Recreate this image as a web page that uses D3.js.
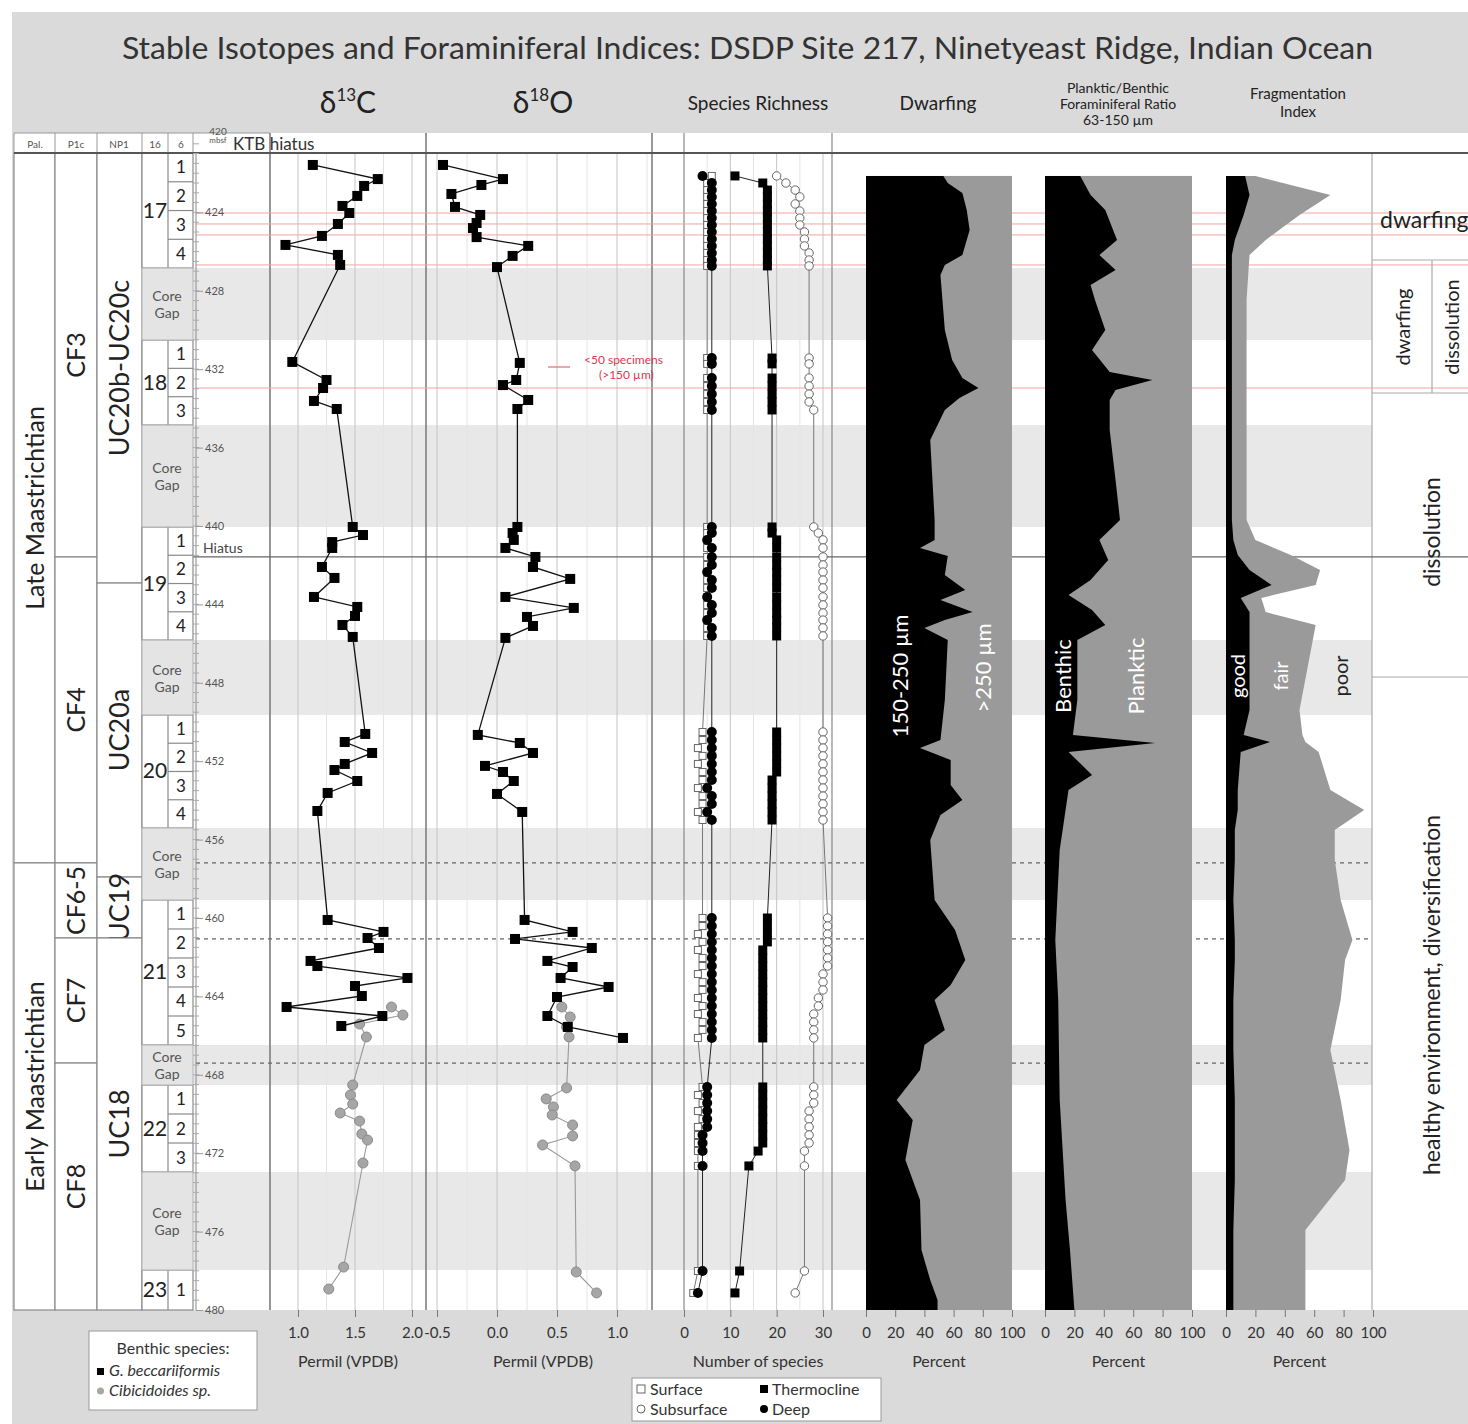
<!DOCTYPE html>
<html>
<head>
<meta charset="utf-8">
<title>Stable Isotopes and Foraminiferal Indices: DSDP Site 217</title>
<script src="https://cdn.jsdelivr.net/npm/d3@7"></script>
<style>
    body { margin: 0; background: #fff; }
    svg text { font-family: Lato, "Open Sans", sans-serif; fill: #222; }
</style>
</head>
<body>
<svg id="chart" width="1468" height="1424"></svg>
<script>
// ---------- stratigraphy (depths in mbsf) ----------
var stageNames = ["Late Maastrichtian", "Early Maastrichtian"];
var stageTop = [420.97, 457.19];
var stageBase = [457.19, 480];

var pfZones = ["CF3", "CF4", "CF6-5", "CF7", "CF8"];
var pfTop = [420.97, 441.58, 457.19, 461.02, 467.40];
var pfBase = [441.58, 457.19, 461.02, 467.40, 480];

var nannoZones = ["UC20b-UC20c", "UC20a", "UC19", "UC18"];
var nannoTop = [420.97, 442.91, 457.91, 461.02];
var nannoBase = [442.91, 457.91, 461.02, 480];

var coreNames = ["17", "18", "19", "20", "21", "22", "23"];
var coreTop = [420.97, 430.51, 440.05, 449.64, 459.08, 468.52, 477.96];
var coreBase = [426.84, 434.85, 445.82, 455.41, 466.48, 472.96, 480.00];
var coreSections = [4, 3, 4, 4, 5, 3, 1];
var gapTop = [426.84, 434.85, 445.82, 455.41, 466.48, 472.96];
var gapBase = [430.51, 440.05, 449.64, 459.08, 468.52, 477.96];

var depthLabels = [424, 428, 432, 436, 440, 444, 448, 452, 456, 460, 464, 468, 472, 476, 480];
var redLineDepths = [424.03, 424.59, 425.15, 426.68, 432.96];
var hiatusDepth = 441.58;
var dashedDepths = [457.19, 461.07, 467.40];

// ---------- axis ticks ----------
var c13Ticks = [1.0, 1.5, 2.0];
var o18Ticks = [-0.5, 0.0, 0.5, 1.0];
var richTicks = [0, 10, 20, 30];
var pctTicks = [0, 20, 40, 60, 80, 100];

// ---------- d13C ----------
var c13BeccDepth = [421.58, 422.30, 422.65, 423.16, 423.67, 424.03, 424.59, 425.20, 425.66, 426.17, 426.68,
    431.63, 432.55, 432.96, 433.62, 434.03,
    440.05, 440.46, 440.82, 441.12, 442.09, 442.65, 443.62, 444.13, 444.59, 445.05, 445.66,
    450.61, 451.02, 451.58, 452.14, 452.45, 453.01, 453.62, 454.54,
    460.10, 460.71, 461.02, 461.53, 462.19, 462.45, 463.06, 463.47, 463.98, 464.54, 465.00, 465.51];
var c13BeccValue = [1.13, 1.70, 1.58, 1.52, 1.39, 1.45, 1.35, 1.21, 0.89, 1.35, 1.37,
    0.95, 1.25, 1.22, 1.14, 1.34,
    1.48, 1.57, 1.30, 1.30, 1.21, 1.32, 1.14, 1.52, 1.50, 1.39, 1.48,
    1.59, 1.41, 1.65, 1.41, 1.32, 1.52, 1.26, 1.17,
    1.26, 1.75, 1.61, 1.71, 1.11, 1.17, 1.96, 1.50, 1.56, 0.90, 1.74, 1.38];
var c13CibDepth = [464.54, 464.95, 465.41, 466.07, 468.52, 469.03, 469.49, 469.95, 470.36, 471.02, 471.33, 472.50, 477.81, 478.93];
var c13CibValue = [1.82, 1.92, 1.54, 1.60, 1.48, 1.46, 1.48, 1.37, 1.54, 1.56, 1.61, 1.57, 1.40, 1.27];

// ---------- d18O ----------
var o18BeccDepth = [421.58, 422.30, 422.60, 423.06, 423.72, 424.13, 424.54, 424.80, 425.26, 425.71, 426.22, 426.79,
    431.68, 432.55, 432.81, 433.57, 434.03,
    440.05, 440.36, 440.71, 441.12, 441.58, 442.09, 442.70, 443.62, 444.18, 444.64, 445.10, 445.71,
    450.66, 451.07, 451.58, 452.24, 452.55, 453.01, 453.67, 454.59,
    460.10, 460.71, 461.07, 461.53, 462.19, 462.50, 463.06, 463.52, 464.03, 465.00, 465.56, 466.12];
var o18BeccValue = [-0.45, 0.05, -0.13, -0.38, -0.35, -0.14, -0.17, -0.20, -0.17, 0.26, 0.13, 0.00,
    0.19, 0.16, 0.05, 0.26, 0.17,
    0.17, 0.13, 0.14, 0.07, 0.32, 0.30, 0.61, 0.07, 0.64, 0.25, 0.30, 0.07,
    -0.16, 0.19, 0.30, -0.10, 0.05, 0.14, 0.00, 0.21,
    0.23, 0.63, 0.15, 0.79, 0.42, 0.63, 0.53, 0.93, 0.50, 0.42, 0.59, 1.05];
var o18CibDepth = [464.54, 465.05, 465.56, 466.07, 468.67, 469.23, 469.64, 470.05, 470.56, 471.12, 471.58, 472.65, 478.06, 479.13];
var o18CibValue = [0.54, 0.61, 0.58, 0.60, 0.58, 0.41, 0.47, 0.46, 0.63, 0.63, 0.38, 0.65, 0.66, 0.83];

// ---------- species richness ----------
var richDepth = [422.14, 422.50, 422.86, 423.21, 423.57, 423.93, 424.29, 424.64, 425.00, 425.36, 425.71, 426.07, 426.43, 426.73,
    431.43, 431.73, 432.45, 432.86, 433.27, 433.67, 434.08,
    440.05, 440.36, 440.71, 441.12, 441.58, 441.99, 442.35, 442.76, 443.16, 443.62, 444.03, 444.44, 444.80, 445.20, 445.61,
    450.51, 450.92, 451.33, 451.73, 452.14, 452.55, 452.96, 453.37, 453.78, 454.18, 454.59, 455.00,
    460.00, 460.41, 460.82, 461.22, 461.63, 462.04, 462.45, 462.86, 463.27, 463.67, 464.08, 464.49, 464.90, 465.31, 465.71, 466.12,
    468.62, 469.03, 469.44, 469.85, 470.26, 470.66, 471.07, 471.48, 471.89, 472.65,
    478.01, 479.13];
var richSurface = [6, 5, 5, 5, 5, 5, 5, 5, 5, 5, 5, 5, 5, 5,
    5, 5, 5, 5, 5, 5, 5,
    5, 5, 5, 5, 5, 5, 5, 5, 5, 5, 5, 5, 5, 5, 5,
    4, 4, 3, 4, 3, 4, 4, 3, 4, 4, 3, 4,
    4, 4, 3, 4, 3, 4, 4, 3, 4, 4, 3, 4, 3, 4, 4, 3,
    4, 3, 4, 3, 4, 3, 3, 3, 3, 3,
    3, 2];
var richSubsurface = [20, 22, 24, 25, 24, 25, 25, 25, 26, 26, 26, 27, 27, 27,
    27, 27, 27, 27, 27, 27, 28,
    28, 29, 30, 30, 30, 30, 30, 30, 30, 30, 30, 30, 30, 30, 30,
    30, 30, 30, 30, 30, 30, 30, 30, 30, 30, 30, 30,
    31, 31, 31, 31, 31, 31, 31, 30, 30, 30, 29, 29, 28, 28, 28, 28,
    28, 28, 28, 27, 27, 27, 27, 27, 26, 26,
    26, 24];
var richThermocline = [11, 17, 18, 18, 18, 18, 18, 18, 18, 18, 18, 18, 18, 18,
    19, 19, 19, 19, 19, 19, 19,
    19, 19, 20, 20, 20, 20, 20, 20, 20, 20, 20, 20, 20, 20, 20,
    20, 20, 20, 20, 20, 20, 19, 19, 19, 19, 19, 19,
    18, 18, 18, 18, 17, 17, 17, 17, 17, 17, 17, 17, 17, 17, 17, 17,
    17, 17, 17, 17, 17, 17, 17, 17, 16, 14,
    12, 11];
var richDeep = [4, 6, 6, 6, 6, 6, 6, 6, 6, 6, 6, 6, 6, 6,
    6, 6, 6, 6, 6, 6, 6,
    6, 6, 5, 6, 6, 6, 5, 6, 6, 5, 6, 6, 5, 6, 6,
    6, 6, 6, 6, 6, 6, 6, 5, 6, 6, 5, 6,
    6, 6, 6, 6, 6, 6, 6, 6, 6, 6, 6, 6, 6, 6, 6, 6,
    5, 5, 5, 5, 5, 5, 4, 4, 4, 4,
    4, 3];

// ---------- dwarfing: % of 150-250 um fraction ----------
var dwarfDepth = [422.14, 422.50, 423.01, 423.88, 424.90, 426.17, 426.68, 427.19, 430.00, 431.53, 432.45, 432.96, 433.47, 434.08,
    435.61, 439.69, 440.71, 441.12, 441.53, 442.50, 443.27, 443.78, 444.39, 444.80, 445.20, 445.82, 448.88, 450.92,
    451.33, 451.94, 453.21, 453.98, 454.74, 456.02, 459.08, 460.61, 462.14, 463.42, 464.18, 465.71, 466.48, 467.76,
    469.29, 470.31, 472.35, 474.39, 476.94, 478.47, 479.49, 480.00];
var dwarfSmall = [53, 56, 66, 69, 71, 66, 54, 51, 54, 59, 66, 77, 64, 54,
    44, 47, 47, 37, 56, 54, 68, 51, 73, 54, 40, 56, 54, 51,
    37, 58, 58, 66, 51, 44, 47, 61, 68, 58, 47, 54, 40, 37,
    21, 32, 27, 37, 38, 44, 49, 49];

// ---------- planktic/benthic: % benthic ----------
var pbDepth = [422.14, 423.11, 423.88, 425.41, 426.17, 426.94, 427.70, 428.47, 430.00, 431.02, 432.14, 432.55, 433.06,
    433.57, 435.10, 437.65, 439.69, 440.71, 441.73, 442.76, 443.52, 444.29, 445.05, 445.82, 448.88, 450.66,
    451.07, 451.53, 452.70, 453.47, 456.53, 461.12, 464.18, 469.29, 474.39, 476.94, 480.00];
var pbBenthic = [24, 31, 41, 49, 37, 48, 31, 34, 41, 32, 44, 73, 48,
    44, 44, 48, 51, 37, 43, 31, 16, 32, 41, 22, 22, 19,
    75, 16, 32, 16, 10, 7, 9, 10, 14, 17, 20];

// ---------- fragmentation index: % good / % fair ----------
var fragDepth = [422.14, 423.11, 424.13, 425.41, 426.17, 428.47, 433.57, 439.69, 440.71, 441.48, 442.24, 443.01, 443.67,
    444.39, 445.05, 449.39, 450.66, 451.02, 451.53, 453.47, 454.49, 455.51, 457.04, 459.08, 461.12, 462.14,
    464.18, 466.73, 469.29, 471.84, 473.37, 475.92, 480.00];
var fragGood = [13, 16, 12, 6, 4, 4, 4, 4, 5, 8, 16, 31, 10,
    16, 16, 16, 12, 30, 10, 8, 8, 6, 6, 5, 6, 6,
    5, 5, 6, 6, 6, 5, 5];
var fragFair = [7, 55, 38, 21, 12, 10, 10, 10, 15, 36, 48, 30, 14,
    11, 45, 34, 40, 24, 53, 63, 86, 68, 68, 73, 80, 75,
    73, 66, 72, 78, 75, 49, 49];

// ---------- scales ----------
var svg = d3.select("#chart");
var y = d3.scaleLinear().domain([420, 480]).range([134, 1310]);
var x13 = d3.scaleLinear().domain([1.0, 2.0]).range([298, 412]);
var x18 = d3.scaleLinear().domain([-0.5, 1.0]).range([437, 617]);
var xRich = d3.scaleLinear().domain([0, 30]).range([684, 823]);
var xDwarf = d3.scaleLinear().domain([0, 100]).range([866, 1012]);
var xPB = d3.scaleLinear().domain([0, 100]).range([1045, 1192]);
var xFrag = d3.scaleLinear().domain([0, 100]).range([1226, 1373]);
var yBot = y(480);

function hline(x1, x2, yy, color, w, dash) {
    var l = svg.append("line").attr("x1", x1).attr("x2", x2).attr("y1", yy).attr("y2", yy)
        .attr("stroke", color).attr("stroke-width", w || 1);
    if (dash) l.attr("stroke-dasharray", dash);
    return l;
}
function vline(xx, y1, y2, color, w) {
    return svg.append("line").attr("x1", xx).attr("x2", xx).attr("y1", y1).attr("y2", y2)
        .attr("stroke", color).attr("stroke-width", w || 1);
}
function label(x, yy, str, size, anchor, fill) {
    return svg.append("text").attr("x", x).attr("y", yy).attr("font-size", size)
        .attr("text-anchor", anchor || "middle").style("fill", fill || "#222").text(str);
}
function vlabel(x, yc, str, size, fill) {
    return svg.append("text").attr("transform", "translate(" + x + "," + yc + ") rotate(-90)")
        .attr("text-anchor", "middle").attr("font-size", size).style("fill", fill || "#222").text(str);
}
function rows(depths, values) {
    return depths.map(function(d, i) { return {d: d, v: values[i]}; });
}

// ---------- background ----------
svg.append("rect").attr("x", 12).attr("y", 12).attr("width", 1456).attr("height", 1412).attr("fill", "#dadada");
svg.append("rect").attr("x", 14).attr("y", 133).attr("width", 1454).attr("height", yBot - 133).attr("fill", "#fff");

// core gap bands
gapTop.forEach(function(t, i) {
    svg.append("rect").attr("x", 142).attr("y", y(t)).attr("width", 1372 - 142)
        .attr("height", y(gapBase[i]) - y(t)).attr("fill", "#e8e8e8");
});

// grid lines
function grid(scale, vals, color) {
    vals.forEach(function(v) { vline(scale(v), 153, yBot, color); });
}
grid(x13, c13Ticks.slice(1).map(function(v) { return v - 0.25; }).concat([0.75]), "#e4e4e4");
grid(x13, c13Ticks, "#c4c4c4");
grid(x18, o18Ticks.map(function(v) { return v + 0.25; }), "#e4e4e4");
grid(x18, o18Ticks, "#c4c4c4");
grid(xRich, [5, 15, 25], "#e4e4e4");
grid(xRich, richTicks.slice(1), "#c4c4c4");

// panel borders
vline(270, 133, yBot, "#777", 1.5);
vline(426, 133, yBot, "#777", 1.5);
vline(652, 133, yBot, "#999", 2);
vline(684, 133, yBot, "#888", 1.2);
vline(832, 133, yBot, "#888", 1.2);
vline(1372, 153, yBot, "#aaa", 1.2);

// event lines
redLineDepths.forEach(function(d) { hline(196, 1468, y(d), "#f3a3a3", 1); });
hline(168, 1468, y(hiatusDepth), "#666", 1.2);
dashedDepths.forEach(function(d) { hline(196, 1372, y(d), "#666", 1.2, "4,4"); });

// ---------- percent panels ----------
var dw = rows(dwarfDepth, dwarfSmall);
svg.append("rect").attr("x", xDwarf(0)).attr("y", y(dwarfDepth[0])).attr("width", xDwarf(100) - xDwarf(0))
    .attr("height", yBot - y(dwarfDepth[0])).attr("fill", "#9a9a9a");
svg.append("path").datum(dw).attr("fill", "#000")
    .attr("d", d3.area().y(function(d) { return y(d.d); }).x0(xDwarf(0)).x1(function(d) { return xDwarf(d.v); }));

var pb = rows(pbDepth, pbBenthic);
svg.append("rect").attr("x", xPB(0)).attr("y", y(pbDepth[0])).attr("width", xPB(100) - xPB(0))
    .attr("height", yBot - y(pbDepth[0])).attr("fill", "#9a9a9a");
svg.append("path").datum(pb).attr("fill", "#000")
    .attr("d", d3.area().y(function(d) { return y(d.d); }).x0(xPB(0)).x1(function(d) { return xPB(d.v); }));

var fr = fragDepth.map(function(d, i) { return {d: d, g: fragGood[i], f: fragGood[i] + fragFair[i]}; });
svg.append("path").datum(fr).attr("fill", "#9a9a9a")
    .attr("d", d3.area().y(function(d) { return y(d.d); }).x0(xFrag(0)).x1(function(d) { return xFrag(d.f); }));
svg.append("path").datum(fr).attr("fill", "#000")
    .attr("d", d3.area().y(function(d) { return y(d.d); }).x0(xFrag(0)).x1(function(d) { return xFrag(d.g); }));

vlabel(908, 676, "150-250 µm", 22, "#fff");
vlabel(991, 668, ">250 µm", 22, "#fff");
vlabel(1071, 676, "Benthic", 22, "#fff");
vlabel(1144, 676, "Planktic", 22, "#fff");
vlabel(1245, 676, "good", 20, "#fff");
vlabel(1288, 676, "fair", 20, "#fff");
vlabel(1348, 676, "poor", 20, "#222");

// ---------- isotope series ----------
function isoSeries(scale, depths, values, isBecc) {
    var data = rows(depths, values);
    svg.append("path").datum(data).attr("fill", "none")
        .attr("stroke", isBecc ? "#111" : "#999").attr("stroke-width", isBecc ? 1.3 : 1.1)
        .attr("d", d3.line().x(function(d) { return scale(d.v); }).y(function(d) { return y(d.d); }));
    if (isBecc) {
        svg.append("g").selectAll("rect").data(data).enter().append("rect")
            .attr("x", function(d) { return scale(d.v) - 5; }).attr("y", function(d) { return y(d.d) - 5; })
            .attr("width", 10).attr("height", 10).attr("fill", "#000");
    } else {
        svg.append("g").selectAll("circle").data(data).enter().append("circle")
            .attr("cx", function(d) { return scale(d.v); }).attr("cy", function(d) { return y(d.d); })
            .attr("r", 5).attr("fill", "#a6a6a6").attr("stroke", "#8a8a8a");
    }
}
isoSeries(x13, c13CibDepth, c13CibValue, false);
isoSeries(x13, c13BeccDepth, c13BeccValue, true);
isoSeries(x18, o18CibDepth, o18CibValue, false);
isoSeries(x18, o18BeccDepth, o18BeccValue, true);

// ---------- species richness ----------
function richSeries(values, shape, filled) {
    var data = rows(richDepth, values);
    svg.append("path").datum(data).attr("fill", "none").attr("stroke", filled ? "#222" : "#777").attr("stroke-width", 1)
        .attr("d", d3.line().x(function(d) { return xRich(d.v); }).y(function(d) { return y(d.d); }));
    var g = svg.append("g");
    if (shape === "square") {
        g.selectAll("rect").data(data).enter().append("rect")
            .attr("x", function(d) { return xRich(d.v) - (filled ? 4.5 : 3.5); })
            .attr("y", function(d) { return y(d.d) - (filled ? 4.5 : 3.5); })
            .attr("width", filled ? 9 : 7).attr("height", filled ? 9 : 7)
            .attr("fill", filled ? "#000" : "#fff").attr("stroke", filled ? "none" : "#666");
    } else {
        g.selectAll("circle").data(data).enter().append("circle")
            .attr("cx", function(d) { return xRich(d.v); }).attr("cy", function(d) { return y(d.d); })
            .attr("r", filled ? 5 : 4.2)
            .attr("fill", filled ? "#000" : "#fff").attr("stroke", filled ? "none" : "#666");
    }
}
richSeries(richSurface, "square", false);
richSeries(richSubsurface, "circle", false);
richSeries(richThermocline, "square", true);
richSeries(richDeep, "circle", true);

// ---------- stratigraphic columns ----------
svg.append("rect").attr("x", 14).attr("y", 133).attr("width", 182).attr("height", 20).attr("fill", "#fff");
function zoneColumn(x0, x1, names, tops, bases, size) {
    names.forEach(function(n, i) {
        svg.append("rect").attr("x", x0).attr("y", y(tops[i])).attr("width", x1 - x0)
            .attr("height", y(bases[i]) - y(tops[i])).attr("fill", "#fff").attr("stroke", "#8a8a8a").attr("stroke-width", 1.2);
        vlabel((x0 + x1) / 2 + size * 0.36, (y(tops[i]) + y(bases[i])) / 2, n, size);
    });
}
zoneColumn(14, 55, stageNames, stageTop, stageBase, 25);
zoneColumn(55, 97, pfZones, pfTop, pfBase, 25);
zoneColumn(97, 142, nannoZones, nannoTop, nannoBase, 27);

coreNames.forEach(function(c, i) {
    var t = coreTop[i], b = coreBase[i], n = coreSections[i], h = (b - t) / n;
    svg.append("rect").attr("x", 142).attr("y", y(t)).attr("width", 51).attr("height", y(b) - y(t))
        .attr("fill", "#fff").attr("stroke", "#8a8a8a").attr("stroke-width", 1.2);
    vline(168, y(t), y(b), "#8a8a8a", 1.2);
    for (var s = 0; s < n; s++) {
        if (s > 0) hline(168, 193, y(t + h * s), "#8a8a8a", 1.2);
        label(181, (y(t + h * s) + y(t + h * (s + 1))) / 2 + 6, String(s + 1), 17);
    }
    label(155, (y(t) + y(b)) / 2 + 7, c, 21);
});
gapTop.forEach(function(t, i) {
    var b = gapBase[i], cy = (y(t) + y(b)) / 2;
    svg.append("rect").attr("x", 142).attr("y", y(t)).attr("width", 51).attr("height", y(b) - y(t))
        .attr("fill", "#e4e4e4").attr("stroke", "#b5b5b5");
    label(167, cy - 3, "Core", 14, "middle", "#555");
    label(167, cy + 14, "Gap", 14, "middle", "#555");
});

// header row of the columns
hline(14, 270, 133, "#999", 1);
[14, 55, 97, 142, 168, 193].forEach(function(xx) { vline(xx, 133, 153, "#999", 1); });
label(35, 148, "Pal.", 10, "middle", "#555");
label(76, 148, "P1c", 10, "middle", "#555");
label(119, 148, "NP1", 10, "middle", "#555");
label(155, 148, "16", 10, "middle", "#555");
label(181, 148, "6", 10, "middle", "#555");
label(218, 135, "420", 10, "middle", "#555");
label(218, 143, "mbsf", 8, "middle", "#555");
label(233, 150, "KTB hiatus", 17, "start", "#333");
hline(14, 1468, 153, "#555", 2);

// depth axis
vline(196, 153, yBot, "#888", 1);
var minor = d3.range(420.5, 480, 0.5);
minor.forEach(function(d) { svg.append("line").attr("x1", 193).attr("x2", 199).attr("y1", y(d)).attr("y2", y(d)).attr("stroke", "#aaa"); });
var dAxis = svg.append("g").attr("transform", "translate(196,0)")
    .call(d3.axisRight(y).tickValues(depthLabels).tickSize(7).tickPadding(2).tickFormat(d3.format("d")));
dAxis.select(".domain").remove();
dAxis.selectAll("line").attr("stroke", "#999");
dAxis.selectAll("text").attr("font-size", 11).style("fill", "#555").style("font-family", "Lato, sans-serif");
label(203, 553, "Hiatus", 14, "start", "#444");

// <50 specimens annotation
hline(548, 570, 367, "#e26b7a", 1.2);
label(584, 364, "<50 specimens", 12, "start", "#e0364f");
label(599, 379, "(>150 µm)", 12, "start", "#e0364f");

// ---------- right-hand interpretation column ----------
hline(1372, 1468, 260, "#aaa", 1.2);
hline(1372, 1468, 393, "#aaa", 1.2);
hline(1372, 1468, 677, "#aaa", 1.2);
vline(1432, 260, 393, "#aaa", 1.2);
label(1380, 228, "dwarfing", 23, "start", "#222");
vlabel(1410, 327, "dwarfing", 20);
vlabel(1459, 327, "dissolution", 20);
vlabel(1440, 532, "dissolution", 23);
vlabel(1440, 995, "healthy environment, diversification", 23);

// ---------- titles ----------
svg.append("text").attr("x", 122).attr("y", 59).attr("font-size", 30).attr("textLength", 1251)
    .attr("lengthAdjust", "spacingAndGlyphs").style("fill", "#333")
    .text("Stable Isotopes and Foraminiferal Indices: DSDP Site 217, Ninetyeast Ridge, Indian Ocean");

function deltaTitle(x, num, elem) {
    var t = svg.append("text").attr("x", x).attr("y", 113).attr("font-size", 30).attr("text-anchor", "middle").style("fill", "#222");
    t.append("tspan").text("δ");
    t.append("tspan").attr("font-size", 17).attr("dy", -12).text(num);
    t.append("tspan").attr("dy", 12).text(elem);
}
deltaTitle(348, "13", "C");
deltaTitle(543, "18", "O");
label(758, 110, "Species Richness", 19, "middle", "#222");
label(938, 110, "Dwarfing", 19, "middle", "#222");
label(1118, 93, "Planktic/Benthic", 14, "middle", "#222");
label(1118, 109, "Foraminiferal Ratio", 14, "middle", "#222");
label(1118, 125, "63-150 µm", 14, "middle", "#222");
label(1298, 99, "Fragmentation", 15, "middle", "#222");
label(1298, 117, "Index", 15, "middle", "#222");

// ---------- bottom axes ----------
function bottomAxis(scale, ticks, fmt, title) {
    var g = svg.append("g").attr("transform", "translate(0," + yBot + ")")
        .call(d3.axisBottom(scale).tickValues(ticks).tickFormat(fmt).tickSize(7).tickPadding(10));
    g.select(".domain").remove();
    g.selectAll("line").attr("stroke", "#777");
    g.selectAll("text").attr("font-size", 15).style("fill", "#333").style("font-family", "Lato, sans-serif");
    var r = scale.range();
    if (title) label((r[0] + r[1]) / 2, yBot + 57, title, 16, "middle", "#333");
}
function fix1(d) { return d.toFixed(1); }
bottomAxis(x13, c13Ticks, fix1, "");
bottomAxis(x18, o18Ticks, fix1, "");
label(348, 1367, "Permil (VPDB)", 16, "middle", "#333");
label(543, 1367, "Permil (VPDB)", 16, "middle", "#333");
bottomAxis(xRich, richTicks, d3.format("d"), "");
label(758, 1367, "Number of species", 16, "middle", "#333");
bottomAxis(xDwarf, pctTicks, d3.format("d"), "Percent");
bottomAxis(xPB, pctTicks, d3.format("d"), "Percent");
bottomAxis(xFrag, pctTicks, d3.format("d"), "Percent");

// ---------- legends ----------
svg.append("rect").attr("x", 89).attr("y", 1331).attr("width", 168).attr("height", 79)
    .attr("fill", "#fff").attr("stroke", "#999");
label(173, 1354, "Benthic species:", 16, "middle", "#333");
svg.append("rect").attr("x", 97).attr("y", 1368).attr("width", 7).attr("height", 7).attr("fill", "#000");
label(109, 1376, "G. beccariiformis", 16, "start", "#333").style("font-style", "italic");
svg.append("circle").attr("cx", 100.5).attr("cy", 1391).attr("r", 3.5).attr("fill", "#a6a6a6");
label(109, 1396, "Cibicidoides sp.", 16, "start", "#333").style("font-style", "italic");

svg.append("rect").attr("x", 632).attr("y", 1378).attr("width", 249).attr("height", 43)
    .attr("fill", "#fff").attr("stroke", "#999");
svg.append("rect").attr("x", 637).attr("y", 1385).attr("width", 8).attr("height", 8).attr("fill", "#fff").attr("stroke", "#666");
label(650, 1395, "Surface", 16, "start", "#333");
svg.append("circle").attr("cx", 641).attr("cy", 1409).attr("r", 4).attr("fill", "#fff").attr("stroke", "#666");
label(650, 1415, "Subsurface", 16, "start", "#333");
svg.append("rect").attr("x", 760).attr("y", 1385).attr("width", 8).attr("height", 8).attr("fill", "#000");
label(772, 1395, "Thermocline", 16, "start", "#333");
svg.append("circle").attr("cx", 764).attr("cy", 1409).attr("r", 4).attr("fill", "#000");
label(772, 1415, "Deep", 16, "start", "#333");
</script>
</body>
</html>
